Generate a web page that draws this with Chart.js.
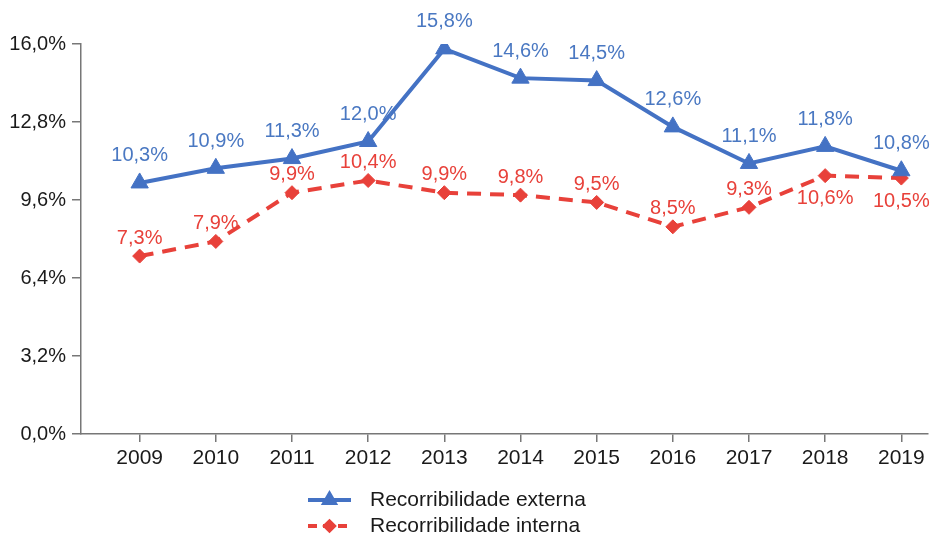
<!DOCTYPE html>
<html>
<head>
<meta charset="utf-8">
<script src="https://cdn.jsdelivr.net/npm/chart.js@4.4.0/dist/chart.umd.min.js"></script>
<style>
  html, body { margin: 0; padding: 0; background: #fff; }
  #wrap { width: 939px; height: 536px; }
</style>
</head>
<body>
<div id="wrap"><canvas id="chart" width="939" height="536"></canvas></div>
<script>
// Years on the x axis
const years = [2009, 2010, 2011, 2012, 2013, 2014, 2015, 2016, 2017, 2018, 2019];
// Recorribilidade externa (%)
const externa = [10.3, 10.9, 11.3, 12.0, 15.8, 14.6, 14.5, 12.6, 11.1, 11.8, 10.8];
// Recorribilidade interna (%)
const interna = [7.3, 7.9, 9.9, 10.4, 9.9, 9.8, 9.5, 8.5, 9.3, 10.6, 10.5];
// y axis ticks
const yTicks = [0, 3.2, 6.4, 9.6, 12.8, 16.0];

const BLUE = '#4472c4';
const RED = '#e8413a';
const FONT = '"Liberation Sans", Arial, sans-serif';

function pct(v) {
    return v.toFixed(1).replace('.', ',') + '%';
}

// Value labels next to each point
const valueLabels = {
    id: 'valueLabels',
    afterDatasetsDraw(chart) {
        const ctx = chart.ctx;
        ctx.save();
        ctx.font = '20px ' + FONT;
        ctx.textAlign = 'center';
        ctx.textBaseline = 'middle';
        chart.data.datasets.forEach((ds, di) => {
            const meta = chart.getDatasetMeta(di);
            meta.data.forEach((pt, i) => {
                const v = ds.data[i].y;
                let dy;
                if (di === 0) {
                    dy = -27;
                } else {
                    // put internal label below when it would collide with the external line
                    dy = (externa[i] - v < 1.3) ? 23 : -18;
                }
                ctx.fillStyle = ds.labelColor;
                ctx.fillText(pct(v), pt.x, pt.y + dy);
            });
        });
        ctx.restore();
    }
};

// Legend stacked in two rows under the axis
const stackedLegend = {
    id: 'stackedLegend',
    afterDraw(chart) {
        const ctx = chart.ctx;
        const x0 = 308, x1 = 351;
        ctx.save();
        chart.data.datasets.forEach((ds, i) => {
            const y = chart.chartArea.bottom + 66 + i * 26;
            ctx.strokeStyle = ds.borderColor;
            ctx.fillStyle = ds.borderColor;
            ctx.lineWidth = 4;
            ctx.setLineDash(ds.borderDash ? [9, 6] : []);
            ctx.beginPath();
            ctx.moveTo(x0, y);
            ctx.lineTo(x1, y);
            ctx.stroke();
            ctx.setLineDash([]);
            Chart.helpers.drawPoint(ctx, {
                pointStyle: ds.pointStyle,
                radius: ds.pointStyle === 'triangle' ? 6 : 4.5,
                borderWidth: 1,
                rotation: 0
            }, (x0 + x1) / 2, y);
            ctx.fillStyle = '#1a1a1a';
            ctx.font = '21px ' + FONT;
            ctx.textAlign = 'left';
            ctx.textBaseline = 'middle';
            ctx.fillText(ds.label, 370, y);
        });
        ctx.restore();
    }
};

new Chart(document.getElementById('chart'), {
    type: 'line',
    data: {
        datasets: [{
            label: 'Recorribilidade externa',
            data: years.map((yr, i) => ({ x: yr, y: externa[i] })),
            borderColor: BLUE,
            backgroundColor: BLUE,
            labelColor: '#4a78c2',
            borderWidth: 4,
            pointStyle: 'triangle',
            pointRadius: 10,
            pointBorderWidth: 1,
            tension: 0
        }, {
            label: 'Recorribilidade interna',
            data: years.map((yr, i) => ({ x: yr, y: interna[i] })),
            borderColor: RED,
            backgroundColor: RED,
            labelColor: '#e8413a',
            borderWidth: 4,
            borderDash: [14, 9],
            pointStyle: 'rectRot',
            pointRadius: 7,
            pointBorderWidth: 1,
            tension: 0
        }]
    },
    options: {
        responsive: false,
        animation: false,
        layout: { padding: { top: 44, right: 7, left: 0, bottom: 0 } },
        plugins: {
            legend: { display: false },
            tooltip: { enabled: false }
        },
        scales: {
            x: {
                type: 'linear',
                min: 2008.23,
                max: 2019.35,
                afterFit: s => { s.height = 102; },
                afterBuildTicks: s => { s.ticks = years.map(v => ({ value: v })); },
                grid: { drawOnChartArea: false, tickLength: 8, color: '#777', lineWidth: 1.5 },
                border: { color: '#777', width: 1.5 },
                ticks: {
                    autoSkip: false,
                    maxRotation: 0,
                    padding: 4,
                    color: '#1a1a1a',
                    font: { size: 21, family: FONT },
                    callback: v => String(v)
                }
            },
            y: {
                min: 0,
                max: 16,
                afterFit: s => { s.width = 81; },
                afterBuildTicks: s => { s.ticks = yTicks.map(v => ({ value: v })); },
                grid: { drawOnChartArea: false, tickLength: 9, color: '#777', lineWidth: 1.5 },
                border: { color: '#777', width: 1.5 },
                ticks: {
                    padding: 6,
                    color: '#1a1a1a',
                    font: { size: 20, family: FONT },
                    callback: v => pct(v)
                }
            }
        }
    },
    plugins: [valueLabels, stackedLegend]
});
</script>
</body>
</html>
